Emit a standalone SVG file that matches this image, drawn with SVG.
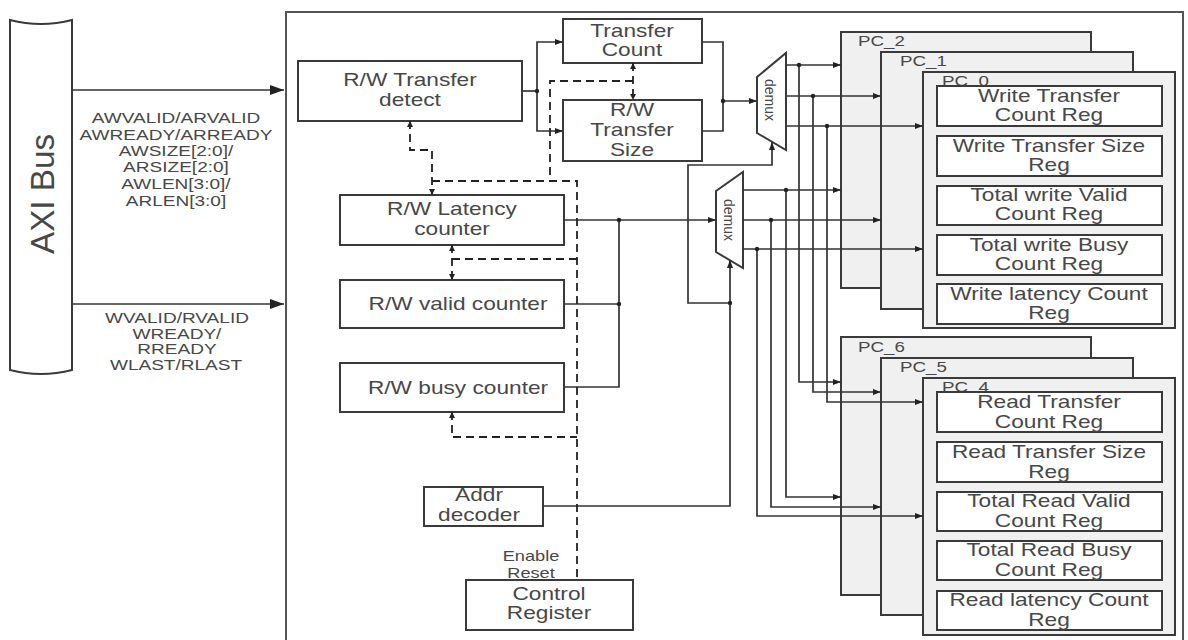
<svg xmlns="http://www.w3.org/2000/svg" width="1188" height="640" viewBox="0 0 1188 640">
<defs>
<style>
.t{font-family:"Liberation Sans",Arial,sans-serif;fill:#484848;}
.b{font-size:18px;text-anchor:middle;}
.s{font-size:15px;text-anchor:middle;}
.pl{font-size:15px;}
.box{fill:#fff;stroke:#3a3a3a;stroke-width:2;}
.pc{fill:#f0f0f0;stroke:#3a3a3a;stroke-width:2;}
.w{fill:none;stroke:#333;stroke-width:1.7;}
.d{fill:none;stroke:#222;stroke-width:1.8;stroke-dasharray:8 5;}
.dot{fill:#222;}
</style>
<marker id="a" markerUnits="userSpaceOnUse" markerWidth="8" markerHeight="6" refX="8" refY="3" orient="auto-start-reverse"><path d="M0,0 L8,3 L0,6 z" fill="#222"/></marker>
<marker id="ad" markerUnits="userSpaceOnUse" markerWidth="6" markerHeight="6" refX="6" refY="3" orient="auto-start-reverse"><path d="M0,0 L6,3 L0,6 z" fill="#222"/></marker>
<marker id="big" markerUnits="userSpaceOnUse" markerWidth="14" markerHeight="10" refX="14" refY="5" orient="auto"><path d="M0,0 L14,5 L0,10 z" fill="#222"/></marker>
</defs>
<rect width="1188" height="640" fill="#fff"/>

<g id="frame"><rect x="286" y="12" width="897" height="640" fill="none" stroke="#555" stroke-width="2"/></g>

<g id="axi-bus">
<path d="M10,20 Q41,28 72,20 L72,370 Q41,378 10,370 Z" fill="#fff" stroke="#3a3a3a" stroke-width="2"/>
<text class="t" font-size="33" text-anchor="middle" textLength="120" lengthAdjust="spacingAndGlyphs" transform="translate(54,194) rotate(-90)" style="font-family:'Liberation Sans Narrow','Liberation Sans',sans-serif">AXI Bus</text>
</g>

<g id="axi-labels">
<text class="t s" transform="matrix(1.27,0,0,1,176,123)">AWVALID/ARVALID</text>
<text class="t s" transform="matrix(1.27,0,0,1,176,140)">AWREADY/ARREADY</text>
<text class="t s" transform="matrix(1.27,0,0,1,176,156)">AWSIZE[2:0]/</text>
<text class="t s" transform="matrix(1.27,0,0,1,176,172)">ARSIZE[2:0]</text>
<text class="t s" transform="matrix(1.27,0,0,1,176,189)">AWLEN[3:0]/</text>
<text class="t s" transform="matrix(1.27,0,0,1,176,206)">ARLEN[3:0]</text>
<text class="t s" transform="matrix(1.27,0,0,1,177,323)">WVALID/RVALID</text>
<text class="t s" transform="matrix(1.27,0,0,1,177,339)">WREADY/</text>
<text class="t s" transform="matrix(1.27,0,0,1,177,354)">RREADY</text>
<text class="t s" transform="matrix(1.27,0,0,1,176,370)">WLAST/RLAST</text>
</g>

<g id="transfer-detect"><rect class="box" x="298" y="61" width="224" height="60"/>
<text class="t b" transform="matrix(1.26,0,0,1,410,86)">R/W Transfer</text>
<text class="t b" transform="matrix(1.26,0,0,1,410,106)">detect</text></g>

<g id="transfer-count"><rect class="box" x="563" y="19" width="139" height="44"/>
<text class="t b" transform="matrix(1.26,0,0,1,632,37)">Transfer</text>
<text class="t b" transform="matrix(1.26,0,0,1,632,56)">Count</text></g>

<g id="transfer-size"><rect class="box" x="563" y="100" width="139" height="61"/>
<text class="t b" transform="matrix(1.26,0,0,1,632,116)">R/W</text>
<text class="t b" transform="matrix(1.26,0,0,1,632,136)">Transfer</text>
<text class="t b" transform="matrix(1.26,0,0,1,632,156)">Size</text></g>

<g id="latency-counter"><rect class="box" x="340" y="195" width="224" height="50"/>
<text class="t b" transform="matrix(1.26,0,0,1,452,215)">R/W Latency</text>
<text class="t b" transform="matrix(1.26,0,0,1,452,235)">counter</text></g>

<g id="valid-counter"><rect class="box" x="340" y="280" width="224" height="48"/>
<text class="t b" transform="matrix(1.26,0,0,1,458,310)">R/W valid counter</text></g>

<g id="busy-counter"><rect class="box" x="340" y="363" width="224" height="49"/>
<text class="t b" transform="matrix(1.26,0,0,1,458,394)">R/W busy counter</text></g>

<g id="addr-decoder"><rect class="box" x="424" y="487" width="119" height="39"/>
<text class="t b" transform="matrix(1.26,0,0,1,479,501)">Addr</text>
<text class="t b" transform="matrix(1.26,0,0,1,479,521)">decoder</text></g>

<g id="control-register"><rect class="box" x="466" y="580" width="167" height="50"/>
<text class="t b" transform="matrix(1.26,0,0,1,549,600)">Control</text>
<text class="t b" transform="matrix(1.26,0,0,1,549,619)">Register</text>
<text class="t" font-size="14" text-anchor="middle" transform="matrix(1.3,0,0,1,531,561)">Enable</text>
<text class="t" font-size="14" text-anchor="middle" transform="matrix(1.3,0,0,1,531,578)">Reset</text></g>

<g id="demux-1"><polygon class="box" points="757,77 786,53 786,150 757,133"/>
<text class="t" font-size="14" text-anchor="middle" dominant-baseline="central" transform="translate(770,100) rotate(90)">demux</text></g>

<g id="demux-2"><polygon class="box" points="716,191 743,172 743,268 716,252"/>
<text class="t" font-size="14" text-anchor="middle" dominant-baseline="central" transform="translate(729,220) rotate(90)">demux</text></g>

<g id="pc-write">
<g id="pc2"><rect class="pc" x="841" y="32" width="250" height="256"/><text class="t pl" transform="matrix(1.25,0,0,1,858,46)">PC_2</text></g>
<g id="pc1"><rect class="pc" x="881" y="52" width="252" height="257"/><text class="t pl" transform="matrix(1.25,0,0,1,900,66)">PC_1</text></g>
<g id="pc0"><rect class="pc" x="923" y="72" width="252" height="256"/><text class="t pl" transform="matrix(1.25,0,0,1,942,86)">PC_0</text>
<rect class="box" x="937" y="86" width="225" height="40"/>
<text class="t b" transform="matrix(1.26,0,0,1,1049,102)">Write Transfer</text>
<text class="t b" transform="matrix(1.26,0,0,1,1049,121)">Count Reg</text>
<rect class="box" x="937" y="136" width="225" height="40"/>
<text class="t b" transform="matrix(1.26,0,0,1,1049,152)">Write Transfer Size</text>
<text class="t b" transform="matrix(1.26,0,0,1,1049,171)">Reg</text>
<rect class="box" x="937" y="186" width="225" height="39"/>
<text class="t b" transform="matrix(1.26,0,0,1,1049,201)">Total write Valid</text>
<text class="t b" transform="matrix(1.26,0,0,1,1049,220)">Count Reg</text>
<rect class="box" x="937" y="235" width="225" height="40"/>
<text class="t b" transform="matrix(1.26,0,0,1,1049,251)">Total write Busy</text>
<text class="t b" transform="matrix(1.26,0,0,1,1049,270)">Count Reg</text>
<rect class="box" x="937" y="284" width="225" height="40"/>
<text class="t b" transform="matrix(1.26,0,0,1,1049,300)">Write latency Count</text>
<text class="t b" transform="matrix(1.26,0,0,1,1049,319)">Reg</text>
</g></g>

<g id="pc-read">
<g id="pc6"><rect class="pc" x="841" y="337" width="250" height="258"/><text class="t pl" transform="matrix(1.25,0,0,1,858,352)">PC_6</text></g>
<g id="pc5"><rect class="pc" x="881" y="358" width="252" height="257"/><text class="t pl" transform="matrix(1.25,0,0,1,900,372)">PC_5</text></g>
<g id="pc4"><rect class="pc" x="923" y="378" width="252" height="257"/><text class="t pl" transform="matrix(1.25,0,0,1,942,392)">PC_4</text>
<rect class="box" x="937" y="392" width="225" height="40"/>
<text class="t b" transform="matrix(1.26,0,0,1,1049,408)">Read Transfer</text>
<text class="t b" transform="matrix(1.26,0,0,1,1049,428)">Count Reg</text>
<rect class="box" x="937" y="442" width="225" height="40"/>
<text class="t b" transform="matrix(1.26,0,0,1,1049,458)">Read Transfer Size</text>
<text class="t b" transform="matrix(1.26,0,0,1,1049,478)">Reg</text>
<rect class="box" x="937" y="492" width="225" height="39"/>
<text class="t b" transform="matrix(1.26,0,0,1,1049,507)">Total Read Valid</text>
<text class="t b" transform="matrix(1.26,0,0,1,1049,527)">Count Reg</text>
<rect class="box" x="937" y="541" width="225" height="39"/>
<text class="t b" transform="matrix(1.26,0,0,1,1049,556)">Total Read Busy</text>
<text class="t b" transform="matrix(1.26,0,0,1,1049,576)">Count Reg</text>
<rect class="box" x="937" y="591" width="225" height="39"/>
<text class="t b" transform="matrix(1.26,0,0,1,1049,606)">Read latency Count</text>
<text class="t b" transform="matrix(1.26,0,0,1,1049,626)">Reg</text>
</g></g>

<g id="connectors">
<path class="w" d="M72,90 H284" marker-end="url(#big)"/>
<path class="w" d="M72,304 H284" marker-end="url(#big)"/>

<path class="w" d="M522,91 H537"/>
<path class="w" d="M537,91 V42 H563" marker-end="url(#a)"/>
<path class="w" d="M537,91 V131 H563" marker-end="url(#a)"/>
<path class="w" d="M702,42 H723 V131 H702"/>
<path class="w" d="M723,101 H757" marker-end="url(#a)"/>

<path class="w" d="M786,65 H841" marker-end="url(#a)"/>
<path class="w" d="M786,96 H881" marker-end="url(#a)"/>
<path class="w" d="M786,126 H923" marker-end="url(#a)"/>
<path class="w" d="M799,65 V382 H841" marker-end="url(#a)"/>
<path class="w" d="M813,96 V392 H881" marker-end="url(#a)"/>
<path class="w" d="M827,126 V402 H923" marker-end="url(#a)"/>

<path class="w" d="M743,190 H841" marker-end="url(#a)"/>
<path class="w" d="M743,220 H881" marker-end="url(#a)"/>
<path class="w" d="M743,249 H923" marker-end="url(#a)"/>
<path class="w" d="M786,190 V497 H841" marker-end="url(#a)"/>
<path class="w" d="M771,220 V507 H881" marker-end="url(#a)"/>
<path class="w" d="M757,249 V516 H923" marker-end="url(#a)"/>

<path class="w" d="M564,220 H716" marker-end="url(#a)"/>
<path class="w" d="M619,220 V387 H564"/>
<path class="w" d="M564,304 H619"/>

<path class="w" d="M543,506 H730 V260" marker-end="url(#a)"/>
<path class="w" d="M730,303 H688 V165 H772 V142" marker-end="url(#a)"/>

<path class="d" d="M633,63 V100" marker-start="url(#ad)" marker-end="url(#ad)"/>
<path class="d" d="M633,81 H550 V181"/>
<path class="d" d="M410,121 V150 H432 V195" marker-start="url(#ad)" marker-end="url(#ad)"/>
<path class="d" d="M432,181 H577 V580"/>
<path class="d" d="M452,245 V280" marker-start="url(#ad)" marker-end="url(#ad)"/>
<path class="d" d="M452,259 H577"/>
<path class="d" d="M452,412 V437 H577" marker-start="url(#ad)"/>

<circle class="dot" cx="537" cy="91" r="2.2"/>
<circle class="dot" cx="723" cy="101" r="2.2"/>
<circle class="dot" cx="799" cy="65" r="2.2"/>
<circle class="dot" cx="813" cy="96" r="2.2"/>
<circle class="dot" cx="827" cy="126" r="2.2"/>
<circle class="dot" cx="786" cy="190" r="2.2"/>
<circle class="dot" cx="771" cy="220" r="2.2"/>
<circle class="dot" cx="757" cy="249" r="2.2"/>
<circle class="dot" cx="619" cy="220" r="2.2"/>
<circle class="dot" cx="619" cy="304" r="2.2"/>
<circle class="dot" cx="730" cy="303" r="2.2"/>
</g>
</svg>
